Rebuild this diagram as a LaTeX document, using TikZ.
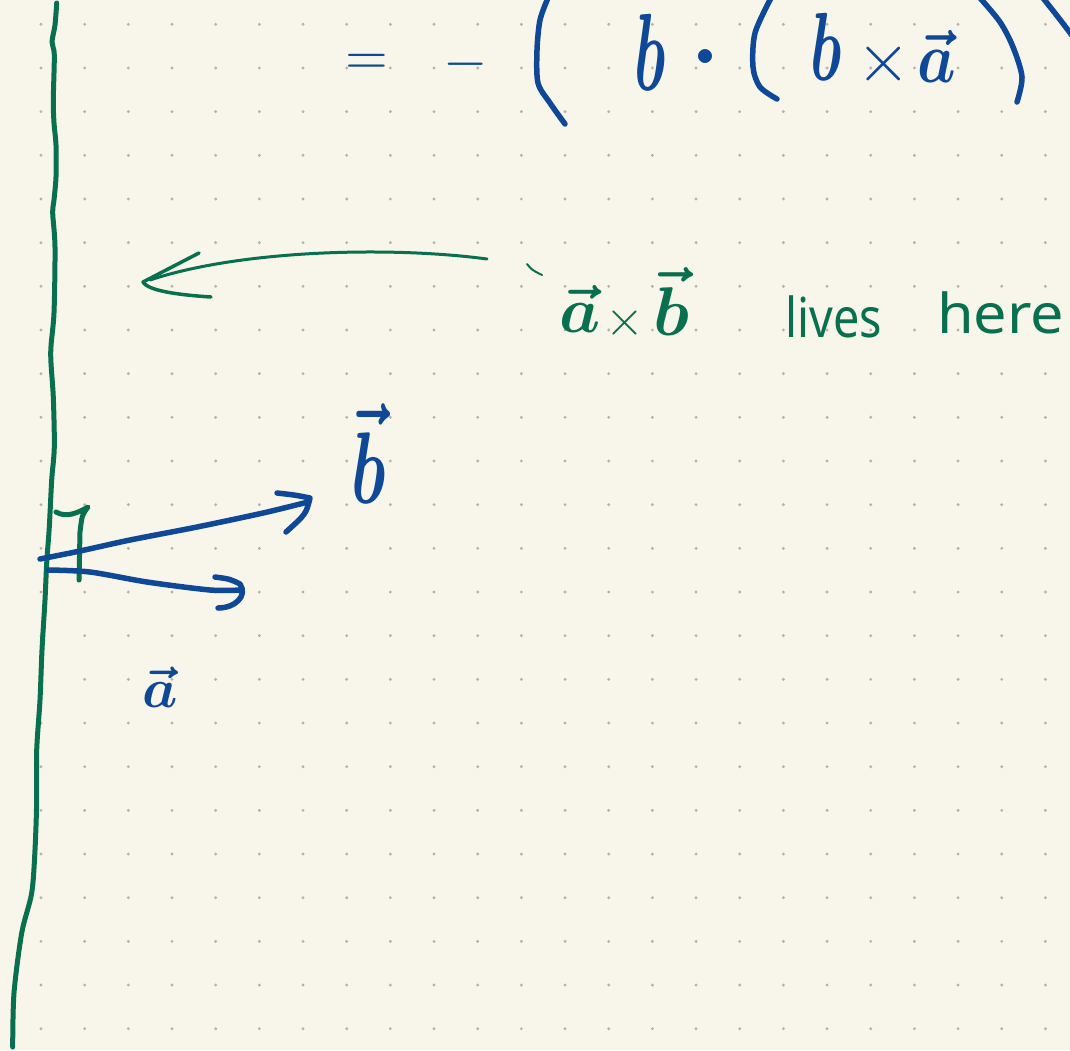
\documentclass[tikz,border=0pt]{standalone}
\usepackage{fontspec}
\usepackage{graphicx}
\newfontfamily\handfont{Noto Sans}
\definecolor{paper}{RGB}{248,246,234}
\definecolor{ink}{RGB}{14,72,150}
\definecolor{pen}{RGB}{8,112,78}
\definecolor{griddot}{RGB}{180,178,170}
\tikzset{
  bluestroke/.style={draw=ink, line width=5.5pt, line cap=round, line join=round},
  greenstroke/.style={draw=pen, line width=5pt, line cap=round, line join=round},
  bluetxt/.style={text=ink, inner sep=0pt},
  greentxt/.style={text=pen, inner sep=0pt},
}
\begin{document}
\begin{tikzpicture}[x=1pt,y=-1pt]
\useasboundingbox (0,0) rectangle (1070,1050);
\fill[paper] (0,0) rectangle (1070,1050);
\begin{scope}
\clip (0,0) rectangle (1070,1050);
% dot grid
\foreach \i in {0,...,23}{
  \foreach \j in {0,...,23}{
    \fill[griddot] ({41+43.67*\i},{24.3+43.67*\j}) circle (1.6pt);
  }
}
% green margin line
\draw[greenstroke] plot[smooth] coordinates {(56.7,3) (55,25) (52,42) (54.3,55) (53.3,100) (54,123) (56,145) (56,177) (54,200) (52.7,213) (55,247) (54,313) (50.7,353) (53.3,397) (54.3,447) (51.7,480) (49.3,527) (46.7,563) (45,600) (42,650) (40,700) (36.7,750) (36.7,800) (35,850) (31.7,893) (21.7,933) (14,993) (12.7,1047)};
% right angle marker
\draw[greenstroke] (56,512) .. controls (66,518) and (78,513) .. (88,507) .. controls (82,515) .. (80,532) -- (79,580);
% green curved arrow
\draw[greenstroke, line width=3pt] (487,259) .. controls (390,246) and (240,250) .. (150,280);
\draw[greenstroke, line width=3.5pt] (199,253) .. controls (170,268) .. (143,282) .. controls (148,291) and (180,295) .. (211,297);
\draw[greenstroke, line width=2pt] (527,264) .. controls (532,270) .. (542,275);
% blue vector b
\draw[bluestroke] plot[smooth] coordinates {(40,559) (80,551) (130,540) (197,527) (263,513) (308,502)};
\draw[bluestroke] (277,493) .. controls (295,495) .. (310,498) .. controls (306,514) .. (286,532);
% blue vector a
\draw[bluestroke] plot[smooth] coordinates {(48,570) (90,572) (147,582) (210,590) (240,590)};
\draw[bluestroke] (215,577) .. controls (230,579) .. (240,584) .. controls (248,596) and (235,608) .. (218,608);
% big parentheses at the top
\draw[bluestroke] plot[smooth] coordinates {(548,-2) (540,20) (537,50) (538,83) (550,103) (565,124)};
\draw[bluestroke] plot[smooth] coordinates {(771,-2) (755,33) (753,67) (760,87) (777,99)};
\draw[bluestroke] plot[smooth] coordinates {(980,-2) (1000,22) (1013,47) (1022,77) (1017,102)};
\draw[bluestroke] plot[smooth] coordinates {(1043,-2) (1058,17) (1074,38)};
\end{scope}
% top formula
\node[bluetxt] (eq) at (367,64) {\scalebox{5.5}{$=$}};
\node[bluetxt] (neg) at (466,64) {\scalebox{5.7}{$-$}};
\node[bluetxt, anchor=base] (b1) at (650,90) {\scalebox{6}[11]{\boldmath$b$}};
\node[bluetxt] (dot) at (705,57) {\scalebox{3.6}{$\bullet$}};
\node[bluetxt, anchor=base] (b2) at (826,80) {\scalebox{6}[9.7]{\boldmath$b$}};
\node[bluetxt] (cross1) at (884,64) {\scalebox{7}{$\times$}};
\node[bluetxt, anchor=base] (a1) at (937,82) {\scalebox{6.1}[7.2]{\boldmath$\vec{a}$}};
% green label
\node[greentxt, anchor=base] (ga) at (580,332) {\scalebox{6.5}{\boldmath$\vec{a}$}};
\node[greentxt] (gx) at (625,323) {\scalebox{5}{$\times$}};
\node[greentxt, anchor=base] (gb) at (671,335) {\scalebox{6.9}{\boldmath$\vec{b}$}};
\node[greentxt, anchor=base west, font=\handfont\fontsize{55}{55}\selectfont] (lives) at (785,337) {\scalebox{0.85}[1]{lives}};
\node[greentxt, anchor=base west, font=\handfont\fontsize{55}{55}\selectfont] (here) at (937,333) {\scalebox{1.08}[1]{here}};
% blue vector labels
\node[bluetxt, anchor=base] (lb) at (369,503) {\scalebox{6.6}[10.2]{\boldmath$\vec{b}$}};
\node[bluetxt, anchor=base] (la) at (160,707) {\scalebox{5.6}{\boldmath$\vec{a}$}};
\end{tikzpicture}
\end{document}
